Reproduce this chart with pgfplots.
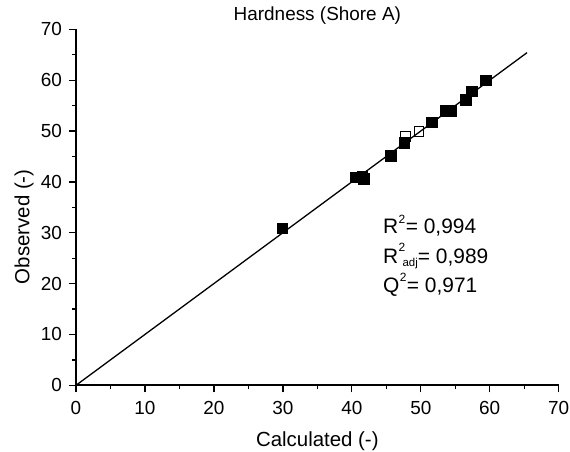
\documentclass[border=0pt]{standalone}
\usepackage{pgfplots}
\pgfplotsset{compat=1.18}
\usepackage{fontspec}
\setmainfont{Liberation Sans}
\begin{document}
\begin{tikzpicture}
\begin{axis}[
  scale only axis, width=482.7bp, height=356bp,
  xmin=0, xmax=70, ymin=0, ymax=70,
  axis x line*=bottom, axis y line*=left,
  xtick={0,10,...,70}, ytick={0,10,...,70},
  minor tick num=1,
  tick align=outside,
  major tick length=7bp, minor tick length=4bp,
  axis line style={line width=2bp, black},
  tick style={line width=1.3bp, black},
  ticklabel style={font=\fontsize{19}{22}\selectfont},
  /pgf/number format/assume math mode=true,
  xticklabel style={yshift=-5bp},
  yticklabel style={xshift=-3.5bp},
  title={Hardness (Shore A)},
  title style={font=\fontsize{19}{22}\selectfont, at={(axis description cs:0.5,1)}, anchor=base, yshift=2.6bp},
  xlabel={Calculated (-)},
  ylabel={Observed (-)},
  label style={font=\fontsize{20.5}{24}\selectfont},
  xlabel style={at={(axis description cs:0.5,0)}, anchor=base, yshift=-61.7bp},
  ylabel style={at={(axis description cs:0,0.4455)}, anchor=base, yshift=46.5bp},
  clip=false,
]
\addplot[black, line width=1.3bp] coordinates {(0,0) (65.4,65.4)};
\addplot[only marks, mark=square*, mark size=5.3bp, mark options={fill=black, draw=black}] coordinates {
(29.9,30.9) (40.6,40.9) (41.5,41.0) (41.7,40.6) (45.6,45.1) (47.6,47.7)
(51.6,51.7) (53.6,54.0) (54.4,54.0) (56.5,56.2) (57.4,57.8) (59.4,60.0)
};
\addplot[only marks, mark=square, mark size=4.8bp, mark options={draw=black, fill=white, line width=0.8bp}] coordinates {
(47.8,48.9) (49.7,49.9)
};
\node[anchor=base west, inner sep=0pt, font=\fontsize{21}{24}\selectfont] at (axis cs:44.5,29.75) {R\hspace{0.5bp}\raisebox{10.9bp}{\fontsize{12}{12}\selectfont 2}\hspace{0.5bp}= 0,994};
\node[anchor=base west, inner sep=0pt, font=\fontsize{21}{24}\selectfont] at (axis cs:44.5,24.0) {R\hspace{0.5bp}\raisebox{11.6bp}{\fontsize{12}{12}\selectfont 2}\hspace{-2.7bp}\raisebox{-3.4bp}{\fontsize{11.5}{12}\selectfont adj}= 0,989};
\node[anchor=base west, inner sep=0pt, font=\fontsize{21}{24}\selectfont] at (axis cs:44.5,18.2) {Q\hspace{0.5bp}\raisebox{10.9bp}{\fontsize{12}{12}\selectfont 2}\hspace{0.5bp}= 0,971};
\coordinate (bl) at (rel axis cs:0,0);
\coordinate (tr) at (rel axis cs:1,1);
\end{axis}
\pgfresetboundingbox
\path[use as bounding box] ([shift={(-76bp,-66.7bp)}]bl) rectangle ([shift={(11.3bp,29.3bp)}]tr);
\end{tikzpicture}
\end{document}
